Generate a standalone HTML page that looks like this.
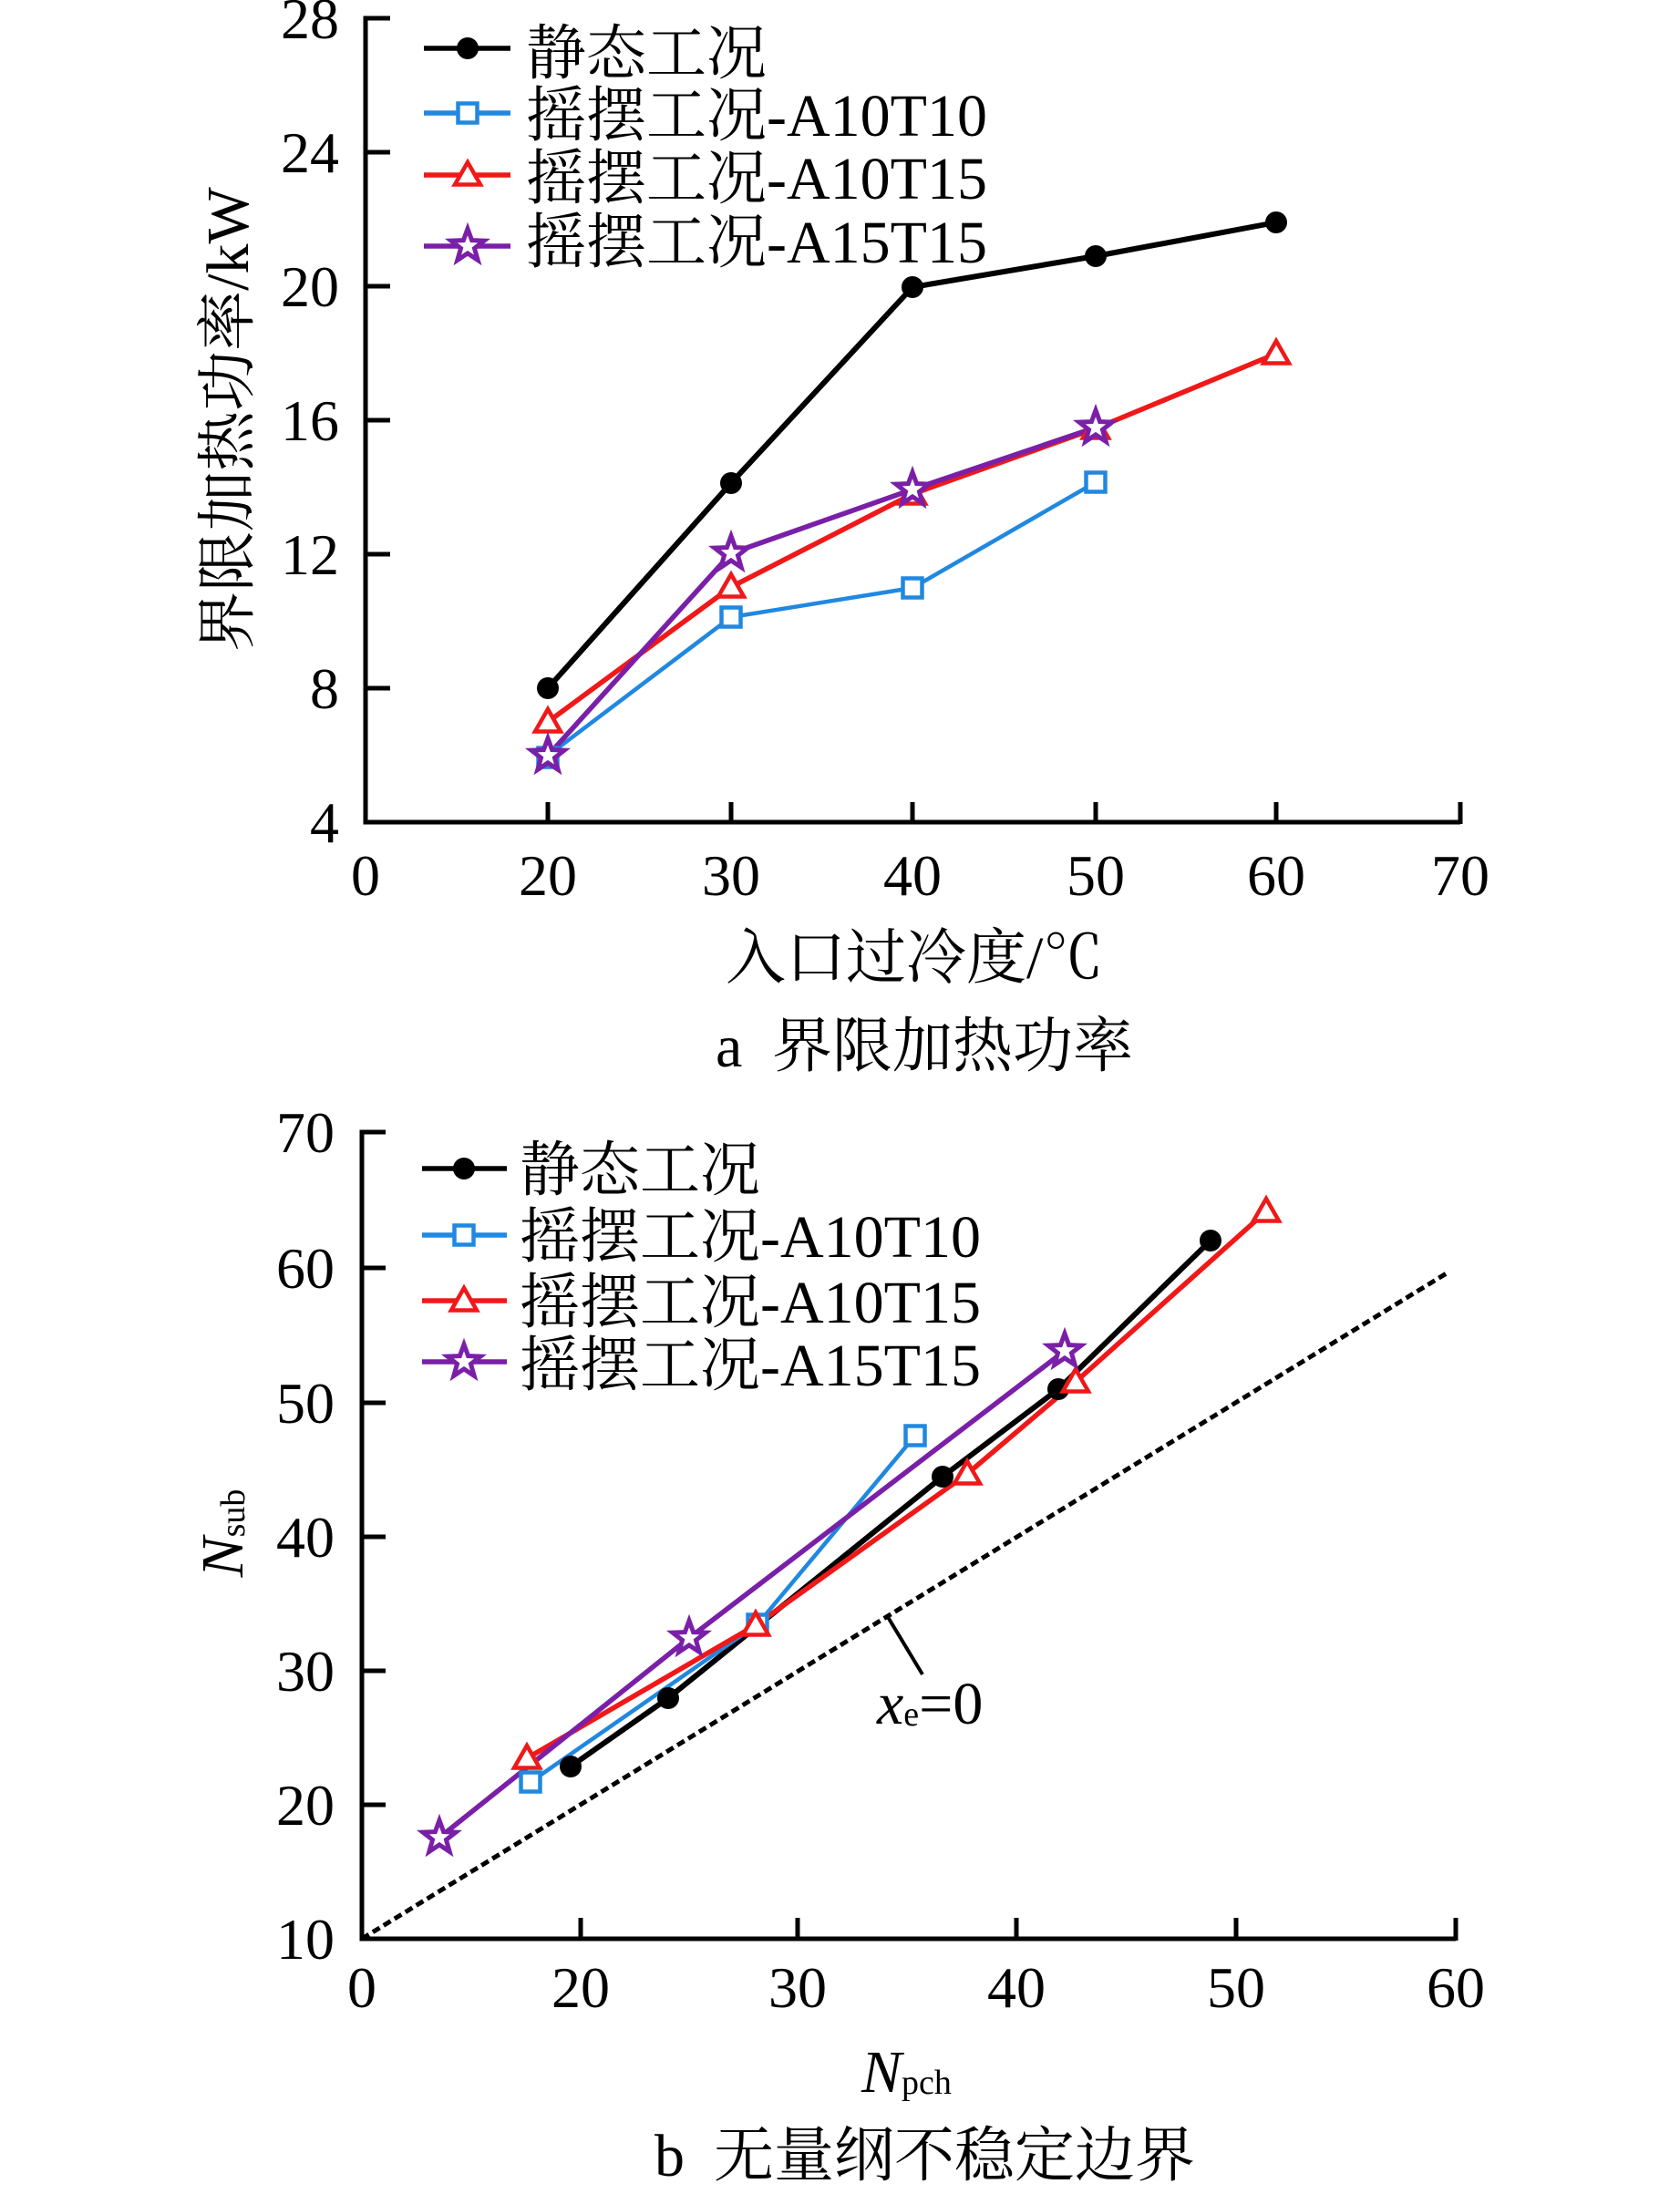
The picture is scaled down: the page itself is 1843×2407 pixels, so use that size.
<!DOCTYPE html>
<html>
<head>
<meta charset="utf-8">
<style>
html,body{margin:0;padding:0;background:#fff;}
svg{display:block;}
text{font-family:"Liberation Serif","Noto Serif CJK SC",serif;fill:#000;}
</style>
</head>
<body>
<svg width="1843" height="2407" viewBox="0 0 1843 2407" xmlns="http://www.w3.org/2000/svg">
<defs>
<path id="star" d="M0,-19 L4.6,-6.4 L18.1,-5.9 L7.5,2.4 L11.2,15.4 L0,7.9 L-11.2,15.4 L-7.5,2.4 L-18.1,-5.9 L-4.6,-6.4 Z" fill="#fff" stroke="#7a1fa8" stroke-width="5" stroke-linejoin="miter"/>
<path id="tri" d="M0,-14 L14,10.5 L-14,10.5 Z" fill="#fff" stroke="#f01818" stroke-width="4.5"/>
<rect id="sq" x="-10.5" y="-10.5" width="21" height="21" fill="#fff" stroke="#2088e0" stroke-width="4.5"/>
<circle id="dot" r="12" fill="#000"/>
</defs>

<!-- ================= TOP CHART ================= -->
<g stroke="#000" stroke-width="5" fill="none">
  <polyline points="428,20 401,20 401,902 1602,902"/>
  <line x1="401" y1="167" x2="428" y2="167"/>
  <line x1="401" y1="314" x2="428" y2="314"/>
  <line x1="401" y1="461" x2="428" y2="461"/>
  <line x1="401" y1="608" x2="428" y2="608"/>
  <line x1="401" y1="755" x2="428" y2="755"/>
  <line x1="601" y1="902" x2="601" y2="880"/>
  <line x1="802" y1="902" x2="802" y2="880"/>
  <line x1="1001" y1="902" x2="1001" y2="880"/>
  <line x1="1202" y1="902" x2="1202" y2="880"/>
  <line x1="1400" y1="902" x2="1400" y2="880"/>
  <line x1="1602" y1="904" x2="1602" y2="880"/>
</g>
<g font-size="64" text-anchor="end">
  <text x="372" y="42">28</text>
  <text x="372" y="189">24</text>
  <text x="372" y="336">20</text>
  <text x="372" y="483">16</text>
  <text x="372" y="630">12</text>
  <text x="372" y="777">8</text>
  <text x="372" y="924">4</text>
</g>
<g font-size="64" text-anchor="middle">
  <text x="401" y="982">0</text>
  <text x="601" y="982">20</text>
  <text x="802" y="982">30</text>
  <text x="1001" y="982">40</text>
  <text x="1202" y="982">50</text>
  <text x="1400" y="982">60</text>
  <text x="1602" y="982">70</text>
</g>
<text font-size="66" text-anchor="middle" transform="translate(272,460) rotate(-90)">界限加热功率/kW</text>
<text font-size="66" x="796" y="1073">入口过冷度/℃</text>
<text font-size="66" x="785" y="1170">a</text>
<text font-size="66" x="847" y="1170">界限加热功率</text>

<!-- series top -->
<g fill="none" stroke-linejoin="round">
  <polyline points="601,755 802,530 1001,315 1202,281 1400,244" stroke="#000" stroke-width="6"/>
  <polyline points="601,829 802,677 1001,645 1202,529" stroke="#2088e0" stroke-width="4.5"/>
  <polyline points="601,792 802,644 1001,542 1202,470 1400,388" stroke="#f01818" stroke-width="5.5"/>
  <polyline points="601,829 802,607 1001,537 1202,469" stroke="#7a1fa8" stroke-width="5.5"/>
</g>
<use href="#dot" x="601" y="755"/><use href="#dot" x="802" y="530"/><use href="#dot" x="1001" y="315"/><use href="#dot" x="1202" y="281"/><use href="#dot" x="1400" y="244"/>
<use href="#sq" x="601" y="831"/><use href="#sq" x="802" y="677"/><use href="#sq" x="1001" y="645"/><use href="#sq" x="1202" y="529"/>
<use href="#tri" x="601" y="792"/><use href="#tri" x="802" y="644"/><use href="#tri" x="1001" y="542"/><use href="#tri" x="1202" y="470"/><use href="#tri" x="1400" y="388"/>
<use href="#star" x="601" y="829"/><use href="#star" x="802" y="607"/><use href="#star" x="1001" y="537"/><use href="#star" x="1202" y="469"/>

<!-- legend top -->
<g stroke-width="5.5">
  <line x1="465" y1="53" x2="560" y2="53" stroke="#000"/>
  <line x1="465" y1="124" x2="560" y2="124" stroke="#2088e0"/>
  <line x1="465" y1="192" x2="560" y2="192" stroke="#f01818"/>
  <line x1="465" y1="270" x2="560" y2="270" stroke="#7a1fa8"/>
</g>
<use href="#dot" x="513" y="53"/>
<use href="#sq" x="513" y="124"/>
<use href="#tri" x="513" y="192"/>
<use href="#star" x="513" y="270"/>
<g font-size="66">
  <text x="577" y="81">静态工况</text>
  <text x="577" y="149">摇摆工况-A10T10</text>
  <text x="577" y="218">摇摆工况-A10T15</text>
  <text x="577" y="288">摇摆工况-A15T15</text>
</g>

<!-- ================= BOTTOM CHART ================= -->
<line x1="397" y1="2127" x2="1590" y2="1395" stroke="#000" stroke-width="5" stroke-dasharray="9 5"/>
<g stroke="#000" stroke-width="5" fill="none">
  <polyline points="423,1242 397,1242 397,2127 1597,2127"/>
  <line x1="397" y1="1391" x2="423" y2="1391"/>
  <line x1="397" y1="1539" x2="423" y2="1539"/>
  <line x1="397" y1="1686" x2="423" y2="1686"/>
  <line x1="397" y1="1833" x2="423" y2="1833"/>
  <line x1="397" y1="1980" x2="423" y2="1980"/>
  <line x1="637" y1="2127" x2="637" y2="2104"/>
  <line x1="875" y1="2127" x2="875" y2="2104"/>
  <line x1="1115" y1="2127" x2="1115" y2="2104"/>
  <line x1="1356" y1="2127" x2="1356" y2="2104"/>
  <line x1="1597" y1="2129" x2="1597" y2="2104"/>
</g>
<g font-size="64" text-anchor="end">
  <text x="367" y="1264">70</text>
  <text x="367" y="1413">60</text>
  <text x="367" y="1561">50</text>
  <text x="367" y="1708">40</text>
  <text x="367" y="1855">30</text>
  <text x="367" y="2002">20</text>
  <text x="367" y="2149">10</text>
</g>
<g font-size="64" text-anchor="middle">
  <text x="397" y="2202">0</text>
  <text x="637" y="2202">20</text>
  <text x="875" y="2202">30</text>
  <text x="1115" y="2202">40</text>
  <text x="1356" y="2202">50</text>
  <text x="1597" y="2202">60</text>
</g>
<text text-anchor="middle" transform="translate(266,1682) rotate(-90)"><tspan font-size="66" font-style="italic">N</tspan><tspan font-size="38" dy="2">sub</tspan></text>
<text x="945" y="2295"><tspan font-size="66" font-style="italic">N</tspan><tspan font-size="38" dy="2">pch</tspan></text>
<text font-size="66" x="718" y="2387">b</text>
<text font-size="66" x="783" y="2387">无量纲不稳定边界</text>

<!-- annotation -->
<line x1="974" y1="1774" x2="1012" y2="1837" stroke="#000" stroke-width="4"/>
<text x="962" y="1891"><tspan font-size="66" font-style="italic">x</tspan><tspan font-size="38" dy="2">e</tspan><tspan font-size="66" dy="-2">=0</tspan></text>

<!-- series bottom -->
<g fill="none" stroke-linejoin="round">
  <polyline points="626,1938 733,1863 1034,1620 1161,1524 1328,1361" stroke="#000" stroke-width="6"/>
  <polyline points="582,1955 831,1782 1004,1575" stroke="#2088e0" stroke-width="4.5"/>
  <polyline points="578,1929 829,1783 1061,1617 1180,1516 1389,1329" stroke="#f01818" stroke-width="5.5"/>
  <polyline points="482,2016 756,1797 1168,1482" stroke="#7a1fa8" stroke-width="5.5"/>
</g>
<use href="#dot" x="626" y="1938"/><use href="#dot" x="733" y="1863"/><use href="#dot" x="1034" y="1620"/><use href="#dot" x="1161" y="1524"/><use href="#dot" x="1328" y="1361"/>
<use href="#sq" x="582" y="1955"/><use href="#sq" x="831" y="1782"/><use href="#sq" x="1004" y="1575"/>
<use href="#tri" x="578" y="1929"/><use href="#tri" x="829" y="1783"/><use href="#tri" x="1061" y="1617"/><use href="#tri" x="1180" y="1516"/><use href="#tri" x="1389" y="1329"/>
<use href="#star" x="482" y="2016"/><use href="#star" x="756" y="1797"/><use href="#star" x="1168" y="1482"/>

<!-- legend bottom -->
<g stroke-width="5.5">
  <line x1="463" y1="1282" x2="556" y2="1282" stroke="#000"/>
  <line x1="463" y1="1355" x2="556" y2="1355" stroke="#2088e0"/>
  <line x1="463" y1="1427" x2="556" y2="1427" stroke="#f01818"/>
  <line x1="463" y1="1494" x2="556" y2="1494" stroke="#7a1fa8"/>
</g>
<use href="#dot" x="509" y="1282"/>
<use href="#sq" x="509" y="1355"/>
<use href="#tri" x="509" y="1427"/>
<use href="#star" x="509" y="1494"/>
<g font-size="66">
  <text x="570" y="1306">静态工况</text>
  <text x="570" y="1379">摇摆工况-A10T10</text>
  <text x="570" y="1451">摇摆工况-A10T15</text>
  <text x="570" y="1520">摇摆工况-A15T15</text>
</g>
</svg>
</body>
</html>
